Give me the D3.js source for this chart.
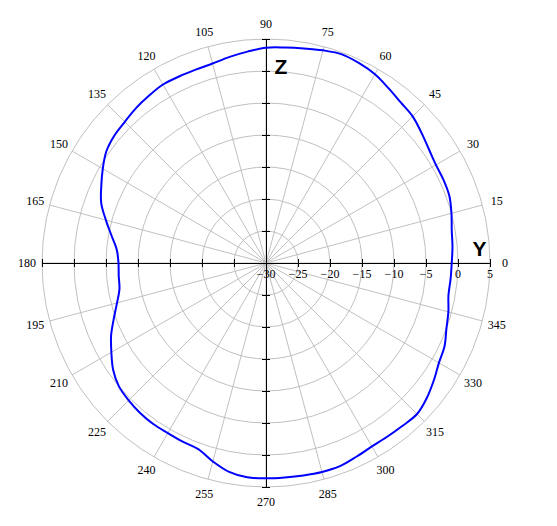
<!DOCTYPE html>
<html>
<head>
<meta charset="utf-8">
<script src="https://cdn.jsdelivr.net/npm/d3@7"></script>
<style>
  html, body { margin: 0; padding: 0; background: #fff; }
  svg { display: block; }
</style>
</head>
<body>
<svg id="chart" width="557" height="526"></svg>
<script>
// ---- data ----
const angles = [0,5,10,15,20,25,30,35,40,45,50,55,60,65,70,75,80,85,90,95,100,105,110,115,120,125,130,135,140,145,150,155,160,165,170,175,180,185,190,195,200,205,210,215,220,225,230,235,240,245,250,255,260,265,270,275,280,285,290,295,300,305,310,315,320,325,330,335,340,345,350,355];
const gainDb = [-0.98,-0.75,-0.53,0.0,0.5,0.62,0.66,1.05,1.7,2.4,2.75,3.35,4.05,4.45,4.69,4.4,4.05,3.8,3.64,3.15,2.7,2.27,2.15,2.15,2.2,1.9,1.6,1.2,0.95,0.45,-0.55,-1.6,-2.6,-4.1,-5.5,-6.6,-6.95,-6.9,-6.75,-5.9,-4.7,-3.3,-2.1,-0.85,0.0,0.35,0.6,0.72,0.68,0.8,0.95,2.1,3.15,3.62,3.64,3.63,3.7,3.8,3.78,3.4,3.1,3.1,3.2,3.37,2.8,2.0,1.2,0.78,0.0,-0.5,-1.05,-1.05];
const radialTicks = [-30,-25,-20,-15,-10,-5,0,5];
const angleTicks = [0,15,30,45,60,75,90,105,120,135,150,165,180,195,210,225,240,255,270,285,300,315,330,345];
const axisNames = ["Z", "Y"];

// ---- layout ----
const cx = 266, cy = 263, R = 224;
const svg = d3.select("#chart");
const r = d3.scaleLinear().domain([-30, 5]).range([0, R]);
const rad = a => a * Math.PI / 180;
const px = (a, rr) => cx + rr * Math.cos(rad(a));
const py = (a, rr) => cy - rr * Math.sin(rad(a));

const grid = svg.append("g").attr("fill", "none").attr("stroke", "#c0c0c0").attr("stroke-width", 1);
// circles
grid.selectAll("circle").data(radialTicks.slice(1)).join("circle")
  .attr("cx", cx).attr("cy", cy).attr("r", d => r(d));
// spokes
grid.selectAll("line").data(angleTicks).join("line")
  .attr("x1", cx).attr("y1", cy)
  .attr("x2", d => px(d, R)).attr("y2", d => py(d, R));

// angle labels
svg.append("g").selectAll("text").data(angleTicks).join("text")
  .attr("x", d => px(d, 239)).attr("y", d => py(d, 239))
  .attr("text-anchor", "middle").attr("dominant-baseline", "central")
  .attr("font-family", "'Liberation Serif', 'Times New Roman', serif")
  .attr("font-size", 12).attr("fill", "#000")
  .text(d => d);

// black axes
const ax = svg.append("g").attr("stroke", "#000").attr("stroke-width", 1).attr("shape-rendering", "crispEdges");
ax.append("line").attr("x1", cx - R).attr("x2", cx + R).attr("y1", cy).attr("y2", cy);
ax.append("line").attr("x1", cx).attr("x2", cx).attr("y1", cy - R).attr("y2", cy + R);
const tickPos = radialTicks.map(d => r(d)).filter(v => v > 0);
tickPos.forEach(v => {
  [1, -1].forEach(s => {
    ax.append("line").attr("x1", cx + s * v).attr("x2", cx + s * v).attr("y1", cy - 4).attr("y2", cy + 4);
    ax.append("line").attr("y1", cy + s * v).attr("y2", cy + s * v).attr("x1", cx - 4).attr("x2", cx + 4);
  });
});
ax.append("line").attr("x1", cx).attr("x2", cx).attr("y1", cy - 4).attr("y2", cy + 4);

// radial tick labels
const fmt = d3.format("d");
svg.append("g").selectAll("text").data(radialTicks).join("text")
  .attr("x", d => cx + r(d)).attr("y", cy + 15)
  .attr("text-anchor", "middle")
  .attr("font-family", "'Liberation Serif', 'Times New Roman', serif")
  .attr("font-size", 12).attr("fill", "#000")
  .text(d => fmt(d));

// pattern
const pts = angles.map((a, i) => ({a, v: gainDb[i]}));
const line = d3.lineRadial()
  .angle(d => rad(90 - d.a))
  .radius(d => r(d.v))
  .curve(d3.curveCatmullRomClosed);
svg.append("path")
  .attr("transform", `translate(${cx},${cy})`)
  .attr("d", line(pts))
  .attr("fill", "none").attr("stroke", "#0000ff").attr("stroke-width", 2);

// axis names
svg.append("text").attr("x", 281).attr("y", 74).attr("text-anchor", "middle")
  .attr("font-family", "'Liberation Sans', Arial, sans-serif").attr("font-weight", "bold")
  .attr("font-size", 21).text(axisNames[0]);
svg.append("text").attr("x", 479.5).attr("y", 256).attr("text-anchor", "middle")
  .attr("font-family", "'Liberation Sans', Arial, sans-serif").attr("font-weight", "bold")
  .attr("font-size", 21).text(axisNames[1]);
</script>
</body>
</html>
